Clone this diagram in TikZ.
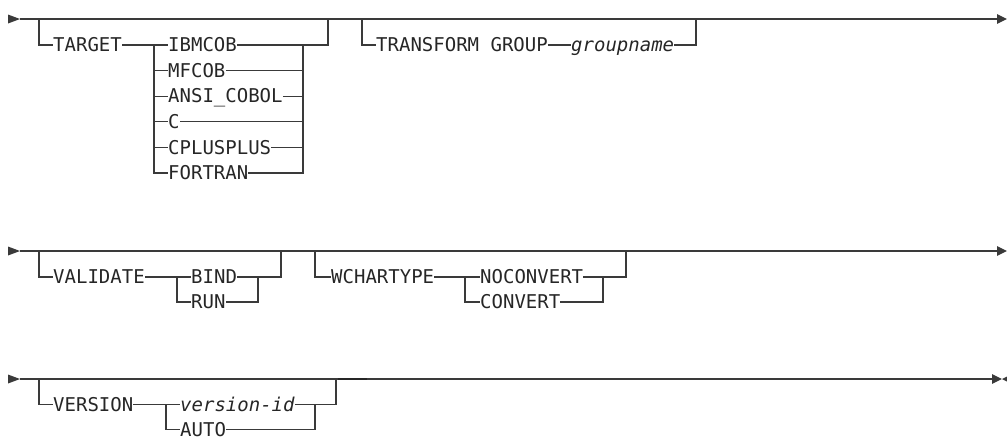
\documentclass[tikz,border=0pt]{standalone}
\usepackage{fontspec}
\setmonofont{DejaVu Sans Mono}
\usetikzlibrary{arrows.meta}
\definecolor{railc}{HTML}{3A3A3A}
\definecolor{txtc}{HTML}{262626}
\begin{document}
\begin{tikzpicture}[x=1pt,y=-1pt,
  rail/.style={draw=railc, line width=1.2pt},
  kw/.style={anchor=west, inner sep=0pt, text height=13.4pt, text depth=0pt,
    font=\ttfamily\fontsize{19}{21}\selectfont, text=txtc},
  var/.style={kw, font=\ttfamily\itshape\fontsize{19}{21}\selectfont},
  endtip/.style={-{Triangle[length=10pt,width=9.5pt]}},
  starttip/.style={fill=railc, draw=none}]
\useasboundingbox (0,0) rectangle (1007,437);

% ---------- Row 1 ----------
\coordinate (s1) at (20,19);
\coordinate (e1) at (1007,19);
\fill[starttip] (8,14.5) -- (s1) -- (8,23.5) -- cycle;
\draw[rail, endtip] (s1) -- (e1);

\node[kw] (target) at (53,45) {TARGET};
\node[kw] (ibmcob) at (168,45) {IBMCOB};
\node[kw] (mfcob) at (168,70.6) {MFCOB};
\node[kw] (ansi) at (168,96.2) {ANSI\_COBOL};
\node[kw] (c) at (168,121.8) {C};
\node[kw] (cplus) at (168,147.4) {CPLUSPLUS};
\node[kw] (fortran) at (168,173) {FORTRAN};

\coordinate (tl) at (39,19);
\coordinate (tr) at (328,19);
\coordinate (tcl) at (154,45);
\coordinate (tcr) at (303,45);
\draw[rail] (tl) |- (target.west);
\draw[rail] (target.east) -- (ibmcob.west);
\draw[rail] (ibmcob.east) -| (tr);
\draw[rail] (tcl) |- (fortran.west);
\draw[rail] (tcr) |- (fortran.east);
\foreach \n in {mfcob,ansi,c,cplus}{
  \draw[rail] (tcl |- \n.west) -- (\n.west);
  \draw[rail] (\n.east) -- (tcr |- \n.east);
}

\node[kw] (transform) at (376,45) {TRANSFORM GROUP};
\node[var] (groupname) at (571,45) {groupname};
\coordinate (gl) at (362,19);
\coordinate (gr) at (696,19);
\draw[rail] (gl) |- (transform.west);
\draw[rail] (transform.east) -- (groupname.west);
\draw[rail] (groupname.east) -| (gr);

% ---------- Row 2 ----------
\coordinate (s2) at (20,251);
\coordinate (e2) at (1007,251);
\fill[starttip] (8,246.5) -- (s2) -- (8,255.5) -- cycle;
\draw[rail, endtip] (s2) -- (e2);

\node[kw] (validate) at (53,277) {VALIDATE};
\node[kw] (bind) at (191,277) {BIND};
\node[kw] (run) at (191,302) {RUN};
\coordinate (vl) at (39,251);
\coordinate (vr) at (281,251);
\coordinate (vcl) at (177,277);
\coordinate (vcr) at (258,277);
\draw[rail] (vl) |- (validate.west);
\draw[rail] (validate.east) -- (bind.west);
\draw[rail] (bind.east) -| (vr);
\draw[rail] (vcl) |- (run.west);
\draw[rail] (vcr) |- (run.east);

\node[kw] (wchar) at (331,277) {WCHARTYPE};
\node[kw] (noconv) at (480,277) {NOCONVERT};
\node[kw] (conv) at (480,302) {CONVERT};
\coordinate (wl) at (315,251);
\coordinate (wr) at (626,251);
\coordinate (wcl) at (465,277);
\coordinate (wcr) at (603,277);
\draw[rail] (wl) |- (wchar.west);
\draw[rail] (wchar.east) -- (noconv.west);
\draw[rail] (noconv.east) -| (wr);
\draw[rail] (wcl) |- (conv.west);
\draw[rail] (wcr) |- (conv.east);

% ---------- Row 3 ----------
\coordinate (s3) at (20,379);
\coordinate (e3) at (1002,379);
\fill[starttip] (8,374.5) -- (s3) -- (8,383.5) -- cycle;
\draw[rail, endtip] (s3) -- (e3);
\fill[starttip] (1002,379) -- (1012,374) -- (1012,384) -- cycle;
\draw[rail, line width=2pt, draw=black!85] (338,379) -- (367,379);

\node[kw] (version) at (53,404.5) {VERSION};
\node[var] (verid) at (180,404.5) {version-id};
\node[kw] (auto) at (180,429.5) {AUTO};
\coordinate (rl) at (39,379);
\coordinate (rr) at (336,379);
\coordinate (rcl) at (166,404.5);
\coordinate (rcr) at (315,404.5);
\draw[rail] (rl) |- (version.west);
\draw[rail] (version.east) -- (verid.west);
\draw[rail] (verid.east) -| (rr);
\draw[rail] (rcl) |- (auto.west);
\draw[rail] (rcr) |- (auto.east);
\end{tikzpicture}
\end{document}
